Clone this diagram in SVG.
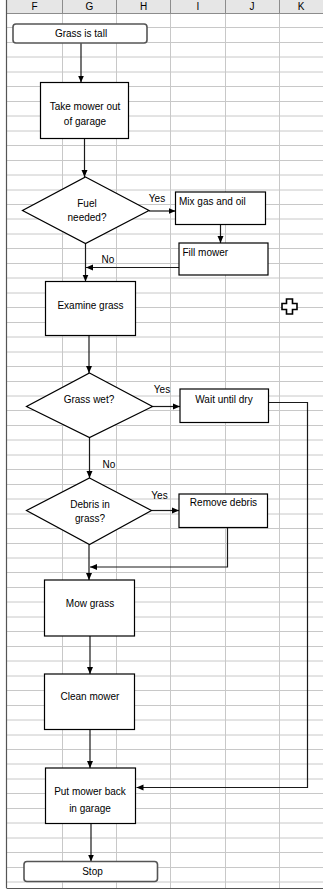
<svg xmlns="http://www.w3.org/2000/svg" width="323" height="890" viewBox="0 0 323 890">
<style>
.grid{stroke:#c8c8c8;stroke-width:1;fill:none}
.hdr{fill:#e6e6e6}
.hsep{stroke:#8c8c8c;stroke-width:1}
.hl{font-family:"Liberation Sans",Arial,sans-serif;font-size:10px;fill:#000;text-anchor:middle}
.box{fill:#fff;stroke:#000;stroke-width:1.2}
.term{fill:#fff;stroke:#555;stroke-width:1.6}
.t{font-family:"Liberation Sans",Arial,sans-serif;font-size:10px;fill:#000;text-anchor:middle}
.tl{font-family:"Liberation Sans",Arial,sans-serif;font-size:10px;fill:#000;text-anchor:start}
.c{fill:none;stroke:#1a1a1a;stroke-width:1.2;marker-end:url(#ah)}
</style>
<defs>
<marker id="ah" markerUnits="userSpaceOnUse" markerWidth="8" markerHeight="8" viewBox="0 0 8 8" refX="7" refY="4" orient="auto">
<path d="M0,1 L7,4 L0,7 Z" fill="#000"/>
</marker>
</defs>
<rect width="323" height="890" fill="#fff"/>
<g id="grid">
<path class="grid" d="M62.5,13 V888 M116.5,13 V888 M170.5,13 V888 M225.5,13 V888 M279.5,13 V888"/>
<path class="grid" d="M7,27.5 H323 M7,42.5 H323 M7,57 H323 M7,72 H323 M7,86.5 H323 M7,101.5 H323 M7,116 H323 M7,131 H323 M7,145.5 H323 M7,160.5 H323 M7,175 H323 M7,190 H323 M7,204.5 H323 M7,219 H323 M7,234 H323 M7,248.5 H323 M7,263.5 H323 M7,278 H323 M7,293 H323 M7,307.5 H323 M7,322.5 H323 M7,337 H323 M7,352 H323 M7,366.5 H323 M7,381.5 H323 M7,396 H323 M7,410.5 H323 M7,425.5 H323 M7,440 H323 M7,455 H323 M7,469.5 H323 M7,484.5 H323 M7,499 H323 M7,514 H323 M7,528.5 H323 M7,543.5 H323 M7,558 H323 M7,572.5 H323 M7,587.5 H323 M7,602 H323 M7,617 H323 M7,631.5 H323 M7,646.5 H323 M7,661 H323 M7,676 H323 M7,690.5 H323 M7,705.5 H323 M7,720 H323 M7,735 H323 M7,749.5 H323 M7,764 H323 M7,779 H323 M7,793.5 H323 M7,808.5 H323 M7,823 H323 M7,838 H323 M7,852.5 H323 M7,867.5 H323 M7,882 H323"/>
<rect class="hdr" x="7" y="0" width="316" height="13"/>
<path class="hsep" d="M62.5,0 V13 M116.5,0 V13 M170.5,0 V13 M225.5,0 V13 M279.5,0 V13 M7,13.5 H323"/>
<path d="M6.5,0 V888 M6.5,888.5 H323" stroke="#555" stroke-width="1.2" fill="none"/>
<text class="hl" x="34.5" y="10">F</text>
<text class="hl" x="89.5" y="10">G</text>
<text class="hl" x="143.5" y="10">H</text>
<text class="hl" x="198" y="10">I</text>
<text class="hl" x="252" y="10">J</text>
<text class="hl" x="301" y="10">K</text>
</g>
<g id="connectors">
<path class="c" d="M81,43 V82.5"/>
<path class="c" d="M84.5,138.5 V177"/>
<path class="c" d="M149,211 H175.5"/>
<path class="c" d="M220.5,224.5 V243"/>
<path class="c" d="M179,267.5 H86"/>
<path class="c" d="M85.5,243.5 V281.5"/>
<path class="c" d="M89,336 V373"/>
<path class="c" d="M152,406.5 H180"/>
<path class="c" d="M268.5,402.5 H307.5 V787.5 H136.5"/>
<path class="c" d="M89.5,437.5 V478"/>
<path class="c" d="M151.5,510.5 H179"/>
<path class="c" d="M227.5,528 V567 H90"/>
<path class="c" d="M89,544.5 V580"/>
<path class="c" d="M90,636 V674"/>
<path class="c" d="M90,729.5 V768"/>
<path class="c" d="M91,823.5 V861.5"/>
<text class="t" x="157" y="201.5">Yes</text>
<text class="t" x="108" y="262.5">No</text>
<text class="t" x="162" y="392.5">Yes</text>
<text class="t" x="109" y="467.5">No</text>
<text class="t" x="159.5" y="498.5">Yes</text>
</g>
<g id="start">
<rect class="term" x="13" y="24" width="134" height="19" rx="3"/>
<text class="t" x="81" y="37">Grass is tall</text>
</g>
<g id="take-mower">
<rect class="box" x="40.5" y="82.5" width="88" height="56"/>
<text class="t" x="85" y="109.5">Take mower out</text>
<text class="t" x="85" y="125">of garage</text>
</g>
<g id="fuel-needed">
<polygon class="box" points="85.5,177 149,210.5 85.5,243.5 22.5,210.5"/>
<text class="t" x="87" y="206.5">Fuel</text>
<text class="t" x="87" y="221">needed?</text>
</g>
<g id="mix-gas">
<rect class="box" x="175.5" y="192" width="90" height="32.5"/>
<text class="tl" x="179" y="205">Mix gas and oil</text>
</g>
<g id="fill-mower">
<rect class="box" x="179" y="243" width="89" height="32"/>
<text class="tl" x="182.5" y="255.5">Fill mower</text>
</g>
<g id="examine-grass">
<rect class="box" x="45.5" y="281.5" width="90" height="54"/>
<text class="t" x="90.5" y="308.5">Examine grass</text>
</g>
<g id="grass-wet">
<polygon class="box" points="89.5,373 152.5,406.5 89.5,437.5 26.5,406.5"/>
<text class="t" x="89" y="402.5">Grass wet?</text>
</g>
<g id="wait-dry">
<rect class="box" x="180" y="389" width="88.5" height="33.5"/>
<text class="t" x="224" y="402.5">Wait until dry</text>
</g>
<g id="debris">
<polygon class="box" points="89.5,478 151.5,510.5 89.5,544.5 26.5,510.5"/>
<text class="t" x="90" y="507.5">Debris in</text>
<text class="t" x="90" y="522">grass?</text>
</g>
<g id="remove-debris">
<rect class="box" x="179" y="494" width="88.5" height="33.5"/>
<text class="t" x="223.5" y="506">Remove debris</text>
</g>
<g id="mow-grass">
<rect class="box" x="44.5" y="580" width="90" height="56"/>
<text class="t" x="90" y="607">Mow grass</text>
</g>
<g id="clean-mower">
<rect class="box" x="44.5" y="674" width="90" height="55.5"/>
<text class="t" x="90" y="700">Clean mower</text>
</g>
<g id="put-back">
<rect class="box" x="45.5" y="768" width="90" height="55.5"/>
<text class="t" x="90" y="795">Put mower back</text>
<text class="t" x="90" y="811.5">in garage</text>
</g>
<g id="stop">
<rect class="term" x="24" y="861.5" width="133.5" height="20" rx="3"/>
<text class="t" x="92.5" y="875">Stop</text>
</g>
<polygon points="286.5,299 292.5,299 292.5,303.5 297,303.5 297,309.5 292.5,309.5 292.5,314 286.5,314 286.5,309.5 282,309.5 282,303.5 286.5,303.5" fill="#fff" stroke="#000" stroke-width="1.6"/>
</svg>
